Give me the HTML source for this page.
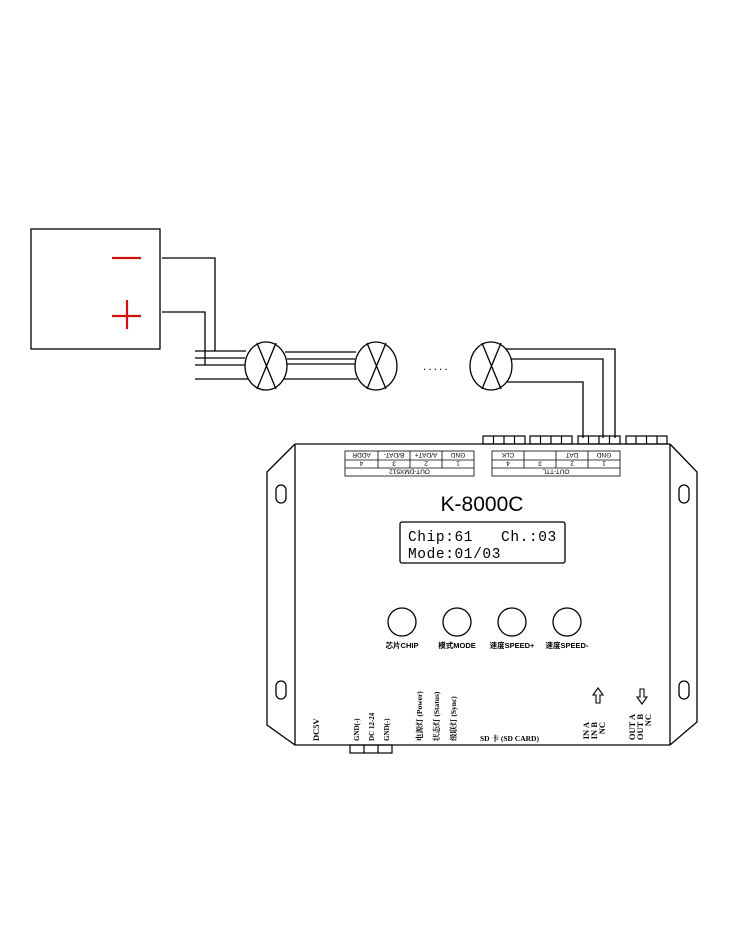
<!DOCTYPE html>
<html><head><meta charset="utf-8"><style>
html,body{margin:0;padding:0;background:#fff;}
svg{display:block}
text{font-family:"Liberation Sans","Noto Sans CJK SC",sans-serif;fill:#000}
.s{font-family:"Liberation Serif","Noto Serif CJK SC",serif;font-weight:bold}
.m{font-family:"Liberation Mono",monospace;white-space:pre}
</style></head><body>
<svg width="750" height="930" viewBox="0 0 750 930" xmlns="http://www.w3.org/2000/svg">
<g fill="none" stroke="#000" stroke-width="1.3">
<rect x="31" y="229" width="129" height="120"/>
<polyline points="162,258 215,258 215,351"/>
<polyline points="162,312 205,312 205,365"/>
<line x1="195" y1="351" x2="246" y2="351"/>
<line x1="195" y1="358" x2="245" y2="358"/>
<line x1="195" y1="365" x2="245" y2="365"/>
<line x1="195" y1="379" x2="248" y2="379"/>
<ellipse cx="266" cy="366" rx="21" ry="24"/>
<line x1="257" y1="343" x2="276" y2="389"/><line x1="276" y1="343" x2="257" y2="389"/>
<ellipse cx="376" cy="366" rx="21" ry="24"/>
<line x1="367" y1="343" x2="386" y2="389"/><line x1="386" y1="343" x2="367" y2="389"/>
<ellipse cx="491" cy="366" rx="21" ry="24"/>
<line x1="482" y1="343" x2="501" y2="389"/><line x1="501" y1="343" x2="482" y2="389"/>
<line x1="285" y1="352" x2="356" y2="352"/>
<line x1="287" y1="359" x2="355" y2="359"/>
<line x1="287" y1="364" x2="355" y2="364"/>
<line x1="284" y1="379" x2="357" y2="379"/>
<polyline points="506,349 615,349 615,438"/>
<polyline points="511,359 603,359 603,438"/>
<polyline points="507,382 583,382 583,438"/>
<polyline points="295,444 670,444"/>
<polyline points="295,444 267,472 267,725 295,745 670,745 697,722 697,472 670,444"/>
<line x1="295" y1="444" x2="295" y2="745"/>
<line x1="670" y1="444" x2="670" y2="745"/>
<rect x="276" y="485" width="10" height="18" rx="5"/>
<rect x="276" y="681" width="10" height="18" rx="5"/>
<rect x="679" y="485" width="10" height="18" rx="5"/>
<rect x="679" y="681" width="10" height="18" rx="5"/>
<g stroke-width="1.2">
<rect x="483" y="436" width="42" height="8"/><line x1="493.5" y1="436" x2="493.5" y2="444"/><line x1="504" y1="436" x2="504" y2="444"/><line x1="514.5" y1="436" x2="514.5" y2="444"/>
<rect x="530" y="436" width="42" height="8"/><line x1="540.5" y1="436" x2="540.5" y2="444"/><line x1="551" y1="436" x2="551" y2="444"/><line x1="561.5" y1="436" x2="561.5" y2="444"/>
<rect x="578" y="436" width="42" height="8"/><line x1="588.5" y1="436" x2="588.5" y2="444"/><line x1="599" y1="436" x2="599" y2="444"/><line x1="609.5" y1="436" x2="609.5" y2="444"/>
<rect x="626" y="436" width="41" height="8"/><line x1="636" y1="436" x2="636" y2="444"/><line x1="646.5" y1="436" x2="646.5" y2="444"/><line x1="657" y1="436" x2="657" y2="444"/>
<rect x="350" y="745" width="42" height="8"/><line x1="364" y1="745" x2="364" y2="753"/><line x1="378" y1="745" x2="378" y2="753"/>
</g>
<g stroke-width="0.8" transform="rotate(180 409.5 463.5)">
<rect x="345" y="451" width="129" height="25"/>
<line x1="345" y1="459" x2="474" y2="459"/><line x1="345" y1="467" x2="474" y2="467"/>
<line x1="377" y1="459" x2="377" y2="476"/><line x1="409" y1="459" x2="409" y2="476"/><line x1="441" y1="459" x2="441" y2="476"/>
</g>
<g stroke-width="0.8" transform="rotate(180 556 463.5)">
<rect x="492" y="451" width="128" height="25"/>
<line x1="492" y1="459" x2="620" y2="459"/><line x1="492" y1="467" x2="620" y2="467"/>
<line x1="524" y1="459" x2="524" y2="476"/><line x1="556" y1="459" x2="556" y2="476"/><line x1="588" y1="459" x2="588" y2="476"/>
</g>
<rect x="400" y="522" width="165" height="41" rx="2"/>
<circle cx="402" cy="622" r="14"/>
<circle cx="457" cy="622" r="14"/>
<circle cx="512" cy="622" r="14"/>
<circle cx="567" cy="622" r="14"/>
<path d="M598,688 L593,695 L596,695 L596,703 L600,703 L600,695 L603,695 Z" stroke-width="1.1"/>
<path d="M642,704 L637,697 L640,697 L640,689 L644,689 L644,697 L647,697 Z" stroke-width="1.1"/>
</g>
<g stroke="#d21010" stroke-width="2.2">
<line x1="112" y1="258" x2="141" y2="258"/>
<line x1="112" y1="316" x2="141" y2="316"/>
<line x1="127" y1="300" x2="127" y2="329"/>
</g>
<text x="423" y="370" font-size="12" letter-spacing="2">.....</text>
<g transform="rotate(180 409.5 463.5)" font-size="6.5" text-anchor="middle">
<text x="409.5" y="457.5">OUT-DMX512</text>
<text x="361" y="465.5">1</text><text x="393" y="465.5">2</text><text x="425" y="465.5">3</text><text x="457.5" y="465.5">4</text>
<text x="361" y="474">GND</text><text x="393" y="474">A/DAT+</text><text x="425" y="474">B/DAT-</text><text x="457.5" y="474">ADDR</text>
</g>
<g transform="rotate(180 556 463.5)" font-size="6.5" text-anchor="middle">
<text x="556" y="457.5">OUT-TTL</text>
<text x="508" y="465.5">1</text><text x="540" y="465.5">2</text><text x="572" y="465.5">3</text><text x="604" y="465.5">4</text>
<text x="508" y="474">GND</text><text x="540" y="474">DAT</text><text x="604" y="474">CLK</text>
</g>
<text x="482" y="511" font-size="21" text-anchor="middle">K-8000C</text>
<text class="m" x="408" y="541" font-size="14.5" letter-spacing="0.6">Chip:61   Ch.:03</text>
<text class="m" x="408" y="558" font-size="14.5" letter-spacing="0.6">Mode:01/03</text>
<g font-size="7.5" text-anchor="middle" font-weight="bold">
<text x="402" y="648">芯片CHIP</text>
<text x="457" y="648">模式MODE</text>
<text x="512" y="648">速度SPEED+</text>
<text x="567" y="648">速度SPEED-</text>
</g>
<g font-size="8">
<text class="s" font-size="8.5" transform="translate(319,741) rotate(-90)">DC5V</text>
<text class="s" font-size="7" transform="translate(359,741) rotate(-90)">GND(-)</text>
<text class="s" font-size="7" transform="translate(374,741) rotate(-90)">DC 12-24</text>
<text class="s" font-size="7" transform="translate(389,741) rotate(-90)">GND(-)</text>
<text class="s" font-size="7.5" transform="translate(422,741) rotate(-90)">电源灯 (Power)</text>
<text class="s" font-size="7.5" transform="translate(439,741) rotate(-90)">状态灯 (Status)</text>
<text class="s" font-size="7.5" transform="translate(456,741) rotate(-90)">级联灯 (Sync)</text>
<text class="s" font-size="7.5" x="480" y="741">SD 卡 (SD CARD)</text>
<text class="s" font-size="8.5" text-anchor="end" transform="translate(589,722) rotate(-90)">IN A</text>
<text class="s" font-size="8.5" text-anchor="end" transform="translate(597,722) rotate(-90)">IN B</text>
<text class="s" font-size="8.5" text-anchor="end" transform="translate(605,722) rotate(-90)">NC</text>
<text class="s" font-size="8.5" text-anchor="end" transform="translate(635,714) rotate(-90)">OUT A</text>
<text class="s" font-size="8.5" text-anchor="end" transform="translate(643,714) rotate(-90)">OUT B</text>
<text class="s" font-size="8.5" text-anchor="end" transform="translate(651,714) rotate(-90)">NC</text>
</g>
</svg>
</body></html>
